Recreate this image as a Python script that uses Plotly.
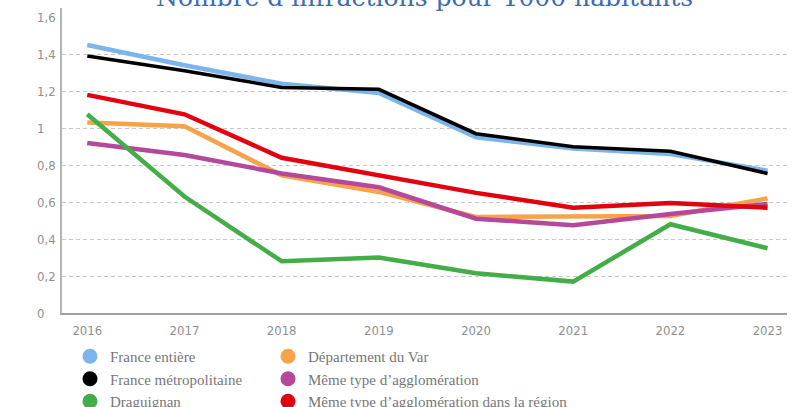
import plotly.graph_objects as go

years = [2016, 2017, 2018, 2019, 2020, 2021, 2022, 2023]
france_entiere = [1.45, 1.34, 1.24, 1.19, 0.95, 0.89, 0.86, 0.77]
france_metro = [1.39, 1.31, 1.22, 1.21, 0.97, 0.90, 0.875, 0.755]
draguignan = [1.075, 0.63, 0.28, 0.30, 0.215, 0.17, 0.48, 0.35]
dept_var = [1.03, 1.01, 0.745, 0.655, 0.52, 0.52, 0.525, 0.62]
meme_type = [0.92, 0.855, 0.755, 0.68, 0.51, 0.475, 0.535, 0.59]
meme_type_region = [1.18, 1.075, 0.84, 0.745, 0.65, 0.57, 0.595, 0.57]

ytick_vals = [0, 0.2, 0.4, 0.6, 0.8, 1.0, 1.2, 1.4, 1.6]
ytick_text = ["0", "0,2", "0,4", "0,6", "0,8", "1", "1,2", "1,4", "1,6"]
grid_vals = [0.2, 0.4, 0.6, 0.8, 1.0, 1.2, 1.4]

series = [
    ("France entière", france_entiere, "#7cb5ec", 4.5, "legend"),
    ("Département du Var", dept_var, "#f7a34a", 4.5, "legend2"),
    ("France métropolitaine", france_metro, "#000000", 3.5, "legend"),
    ("Même type d’agglomération", meme_type, "#b5489a", 4.5, "legend2"),
    ("Draguignan", draguignan, "#43ad48", 4.5, "legend"),
    ("Même type d’agglomération dans la région", meme_type_region, "#e3000f", 4.5, "legend2"),
]

fig = go.Figure()
# invisible subplot carrying left-aligned y tick labels
fig.add_trace(go.Scatter(x=[None], y=[None], xaxis="x2", yaxis="y3",
                         showlegend=False, hoverinfo="skip"))
for name, vals, color, w, lg in series:
    fig.add_trace(go.Scatter(x=years, y=vals, mode="lines", name=name,
                             line=dict(color=color, width=w), showlegend=False,
                             hoverinfo="skip"))
for name, vals, color, w, lg in series:
    fig.add_trace(go.Scatter(x=[None], y=[None], mode="markers", name=name,
                             marker=dict(color=color, size=15, symbol="circle"),
                             legend=lg, showlegend=True))

XL = 30
XR = 20
PW = 807 - XL - XR
TOP = 8
BOT = 74
PH = 407 - TOP - BOT
xdom0 = (62 - XL) / PW
ydom0 = 20 / PH
YMAX = 1.65
ext = 20 / ((PH - 20) / YMAX)

tickfont = dict(family="DejaVu Sans Condensed", size=13, color="#8f8f8f")
legfont = dict(family="Liberation Serif", size=15, color="#777777")
legy = (407 - BOT - 340) / PH

fig.update_layout(
    width=807, height=407,
    margin=dict(l=XL, r=XR, t=TOP, b=BOT, autoexpand=False),
    plot_bgcolor="rgba(0,0,0,0)", paper_bgcolor="white",
    xaxis=dict(domain=[xdom0, 1], range=[2015.74, 2023.2], tickvals=years, anchor="y",
               ticktext=[str(y) for y in years], showgrid=False, zeroline=False,
               showline=True, linecolor="#a0a0a0", linewidth=2, automargin=False,
               ticks="outside", ticklen=4, tickcolor="rgba(0,0,0,0)",
               tickfont=tickfont),
    yaxis=dict(domain=[ydom0, 1], range=[0, YMAX], tickvals=grid_vals, showticklabels=False,
               anchor="x",
               showgrid=True, gridcolor="#c8c8c8", gridwidth=1, griddash="4px,3px",
               zeroline=False, showline=True, linecolor="#b5b5b5", linewidth=2,
               ticks="", automargin=False),
    xaxis2=dict(domain=[0, 1], range=[0, 1], anchor="y3", visible=False),
    yaxis3=dict(domain=[0, 1], range=[-ext, YMAX], anchor="free", position=(33 - XL) / PW,
                tickvals=ytick_vals, ticktext=ytick_text, ticklabelposition="inside",
                showgrid=False, zeroline=False, showline=False, ticks="", automargin=False,
                tickfont=tickfont),
    legend=dict(x=(90 - 20 - XL) / PW, y=legy, xanchor="left", yanchor="top",
                font=legfont, bgcolor="rgba(0,0,0,0)", tracegroupgap=0, itemwidth=30),
    legend2=dict(x=(288 - 20 - XL) / PW, y=legy, xanchor="left", yanchor="top",
                 font=legfont, bgcolor="rgba(0,0,0,0)", tracegroupgap=0, itemwidth=30),
    showlegend=True,
    annotations=[dict(text="Nombre d’infractions pour 1000 habitants", xref="paper", yref="paper",
                      x=(424 - XL) / PW, y=1, xanchor="center", yanchor="bottom", yshift=-6,
                      showarrow=False,
                      font=dict(family="DejaVu Serif", size=25, color="#3d6cb0"))],
)

fig.write_html("out.html", post_script="document.body.style.margin='0';",
               config={"displayModeBar": False})
